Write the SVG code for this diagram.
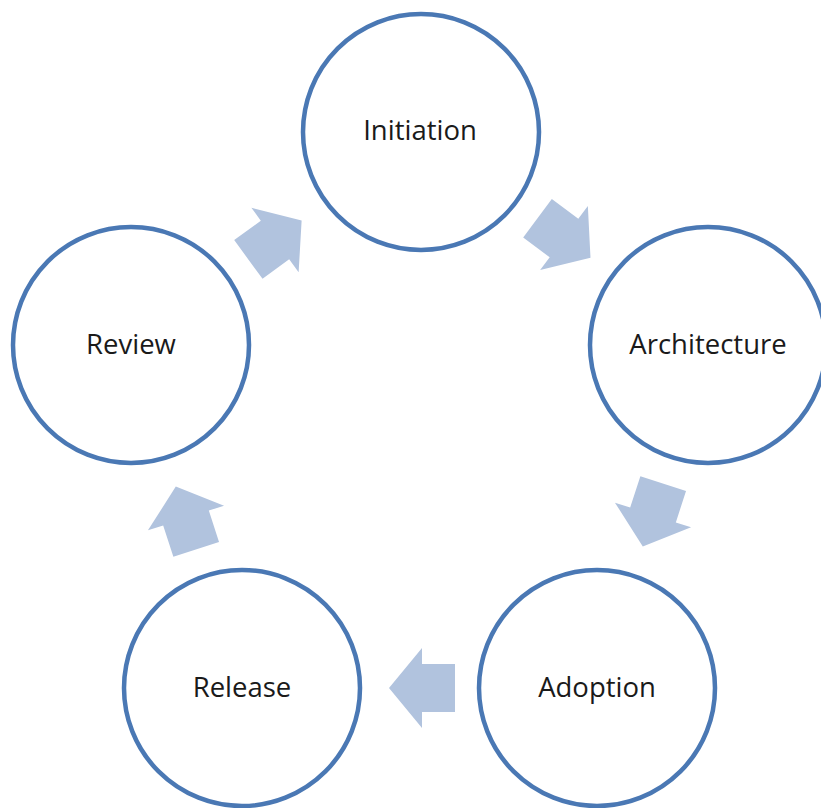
<svg xmlns="http://www.w3.org/2000/svg" width="821" height="808" viewBox="0 0 821 808">
<defs>
<style>
.node circle{fill:#ffffff;stroke:#4a78b4;stroke-width:4.5}
.node text{font-family:"Open Sans","Noto Sans",sans-serif;font-size:27.5px;fill:#1a1a1a;text-anchor:middle}
.arrow{fill:#b1c3de}
</style>
<path id="arr" d="M -33,-24 L 0,-24 L 0,-40 L 33,0 L 0,40 L 0,24 L -33,24 Z"/>
</defs>
<rect width="821" height="808" fill="#ffffff"/>
<g id="connectors">
<use href="#arr" class="arrow" transform="translate(564,238) rotate(36.6)"/>
<use href="#arr" class="arrow" transform="translate(653,515) rotate(108)"/>
<use href="#arr" class="arrow" transform="translate(422,688) rotate(180)"/>
<use href="#arr" class="arrow" transform="translate(186,518) rotate(-108)"/>
<use href="#arr" class="arrow" transform="translate(275,240) rotate(-36.2)"/>
</g>
<g id="initiation" class="node"><circle cx="421" cy="132" r="118"/><text x="420" y="140">Initiation</text></g>
<g id="architecture" class="node"><circle cx="708" cy="345" r="118"/><text x="708" y="354">Architecture</text></g>
<g id="adoption" class="node"><circle cx="597" cy="688" r="118"/><text x="597" y="697">Adoption</text></g>
<g id="release" class="node"><circle cx="242" cy="688" r="118"/><text x="242" y="697">Release</text></g>
<g id="review" class="node"><circle cx="131" cy="345" r="118"/><text x="131" y="354">Review</text></g>
</svg>
